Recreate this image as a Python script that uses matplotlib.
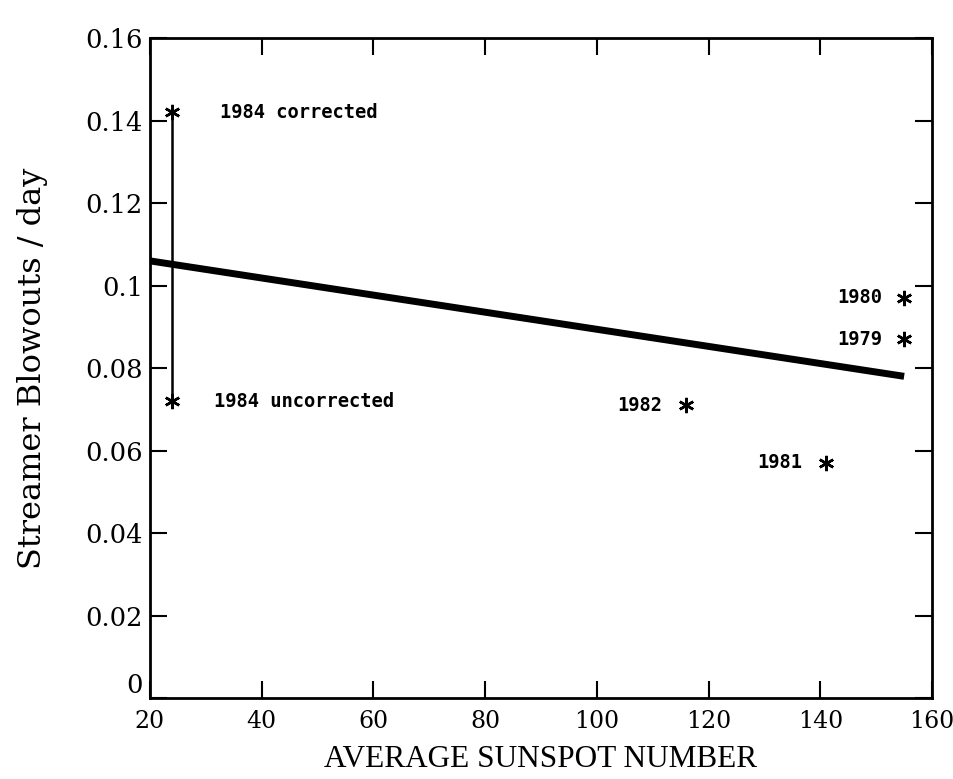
import matplotlib
matplotlib.use("Agg")
import matplotlib.pyplot as plt

# Data
years = ["1984 corrected", "1984 uncorrected", "1982", "1981", "1980", "1979"]
sunspot = [24, 24, 116, 141, 155, 155]
blowouts = [0.142, 0.072, 0.071, 0.057, 0.097, 0.087]

fit_x = [20, 155]
fit_y = [0.106, 0.078]

xticks = [20, 40, 60, 80, 100, 120, 140, 160]
yticks = [0, 0.02, 0.04, 0.06, 0.08, 0.1, 0.12, 0.14, 0.16]
ytick_labels = ["0", "0.02", "0.04", "0.06", "0.08", "0.1", "0.12", "0.14", "0.16"]

fig = plt.figure(figsize=(9.54, 7.79), dpi=100)
ax = fig.add_axes([0.157, 0.104, 0.820, 0.847])

# regression line
ax.plot(fit_x, fit_y, color="black", linewidth=5, solid_capstyle="butt")

# vertical connector between 1984 values
ax.plot([sunspot[0], sunspot[1]], [blowouts[0], blowouts[1]], color="black", linewidth=1.8)

# points
ax.plot(sunspot, blowouts, linestyle="none", marker=(6, 2, 0), markersize=11,
        markeredgewidth=1.8, color="black")

mono = dict(family="DejaVu Sans Mono", fontweight="bold", fontsize=13.5, color="black")
offsets = {
    "1984 corrected": (8.5, 0.0, "left"),
    "1984 uncorrected": (7.5, 0.0, "left"),
    "1982": (-4.2, 0.0, "right"),
    "1981": (-4.2, 0.0, "right"),
    "1980": (-4.0, 0.0, "right"),
    "1979": (-4.0, 0.0, "right"),
}
for name, x, y in zip(years, sunspot, blowouts):
    dx, dy, ha = offsets[name]
    ax.text(x + dx, y + dy, name, ha=ha, va="center", **mono)

ax.set_xlim(20, 160)
ax.set_ylim(0, 0.16)
ax.set_xticks(xticks)
ax.set_xticklabels([str(t) for t in xticks], family="DejaVu Serif", fontsize=17)
ax.set_yticks(yticks)
ax.set_yticklabels(ytick_labels, family="DejaVu Serif", fontsize=18.5)
ax.tick_params(direction="in", length=12, width=1.5, top=True, right=True,
               labeltop=False, labelright=False)
ax.tick_params(axis="x", pad=9)
ax.tick_params(axis="y", pad=5)
# the "0" label sits slightly above the corner, as in the reference
ax.get_yticklabels()[0].set_verticalalignment("bottom")

for s in ax.spines.values():
    s.set_linewidth(2)

ax.set_xlabel("AVERAGE SUNSPOT NUMBER", family="Liberation Serif", fontsize=22.5, labelpad=8)
ax.set_ylabel("Streamer Blowouts / day", family="DejaVu Serif", fontsize=23, labelpad=27)

fig.savefig("out.png", dpi=100)
